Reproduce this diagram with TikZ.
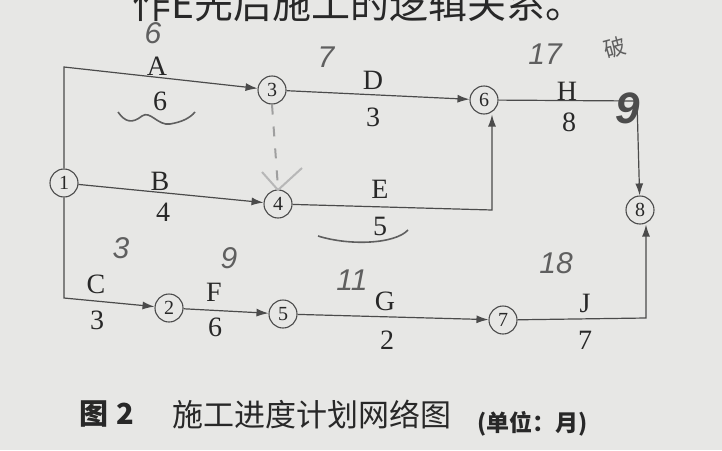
\documentclass[tikz,border=0pt]{standalone}
\usepackage{fontspec}
\setmainfont{Liberation Serif}
\newfontfamily\cjk{Noto Sans CJK SC}
\newfontfamily\hand{Liberation Sans}
\usetikzlibrary{arrows.meta,decorations.pathmorphing}
\definecolor{paper}{RGB}{231,231,229}
\definecolor{ink}{RGB}{40,40,40}
\definecolor{lineink}{RGB}{75,75,75}
\definecolor{pencil}{RGB}{95,95,95}
\tikzset{
  ev/.style={circle,draw=lineink,line width=1.1pt,minimum size=28pt,inner sep=0pt,font=\fontsize{20}{20}\selectfont,text=ink},
  act/.style={draw=lineink,line width=1.2pt},
  arr/.style={act,-{Latex[length=12pt,width=8pt]}},
  lbl/.style={text=ink,font=\fontsize{28}{28}\selectfont,inner sep=0pt},
  hw/.style={text=pencil,font=\hand\itshape\fontsize{30}{30}\selectfont,inner sep=0pt},
}
\begin{document}
\begin{tikzpicture}[x=1pt,y=-1pt]
\fill[paper] (0,0) rectangle (722,450);
\useasboundingbox (0,0) rectangle (722,450);
% top cut text
\node[anchor=base west,inner sep=0pt,text=ink,font=\cjk\fontsize{39}{39}\selectfont] (top) at (132,18) {作E先后施工的逻辑关系。};
% events
\node[ev] (n1) at (64,183) {1};
\node[ev] (n3) at (272,90) {3};
\node[ev] (n4) at (278,204) {4};
\node[ev] (n6) at (484,100) {6};
\node[ev] (n8) at (640,210) {8};
\node[ev] (n2) at (169,308) {2};
\node[ev] (n5) at (283,314) {5};
\node[ev] (n7) at (503,320) {7};
\coordinate (ca) at (64,67);
\coordinate (cc) at (64,298);
\coordinate (ce) at (492,210);
\coordinate (ch) at (637,101);
\coordinate (cj) at (646,318);
% activities
\draw[arr] (n1.north) -- (ca) -- (n3);
\draw[arr] (n1) -- (n4);
\draw[arr] (n1.south) -- (cc) -- (n2);
\draw[arr] (n3) -- (n6);
\draw[arr] (n4) -- (ce) -- (n6.south -| ce);
\draw[arr] (n6) -- (ch) -- (n8);
\draw[arr] (n2) -- (n5);
\draw[arr] (n5) -- (n7);
\draw[arr] (n7) -- (cj) -- (n8.south -| cj);
% labels
\node[lbl] (la) at (157,66) {A};  \node[lbl] (da) at (160,101) {6};
\node[lbl] (lb) at (160,181) {B};  \node[lbl] (db) at (163,212) {4};
\node[lbl] (lc) at (96,284) {C};   \node[lbl] (dc) at (97,320) {3};
\node[lbl] (ld) at (373,80) {D};   \node[lbl] (dd) at (373,117) {3};
\node[lbl] (le) at (380,189) {E};  \node[lbl] (de) at (380,226) {5};
\node[lbl] (lf) at (214,292) {F};  \node[lbl] (df) at (215,327) {6};
\node[lbl] (lg) at (385,301) {G};  \node[lbl] (dg) at (387,340) {2};
\node[lbl] (lh) at (567,91) {H};   \node[lbl] (dh) at (569,122) {8};
\node[lbl] (lj) at (585,303) {J};  \node[lbl] (dj) at (585,340) {7};
% caption
\node[anchor=base west,inner sep=0pt,text=ink,font=\cjk\bfseries\fontsize{29}{29}\selectfont] (cap1) at (79,424) {图\hspace{8pt}2};
\node[anchor=base west,inner sep=0pt,text=ink,font=\cjk\fontsize{31}{31}\selectfont] (cap2) at (172,426) {施工进度计划网络图};
\node[anchor=base west,inner sep=0pt,text=ink,font=\cjk\bfseries\fontsize{23}{23}\selectfont] (cap3) at (477,431) {(单位：月)};
% handwriting
\node[hw] (h6) at (153,33) {6};
\node[hw] (h7) at (326,57) {7};
\node[hw] (h17) at (545,54) {17};
\node[hw,font=\cjk\fontsize{22}{22}\selectfont,rotate=15] (hp) at (615,48) {破};
\node[hw,font=\hand\bfseries\itshape\fontsize{44}{44}\selectfont,text=pencil!80!black] (h9a) at (628,108) {9};
\node[hw] (h3) at (121,248) {3};
\node[hw] (h9b) at (229,258) {9};
\node[hw] (h11) at (352,280) {11};
\node[hw] (h18) at (556,263) {18};
\draw[pencil,line width=1.6pt] (118,112) .. controls (125,122) and (132,124) .. (142,116) .. controls (150,110) and (158,126) .. (170,124) .. controls (182,122) and (190,118) .. (195,112);
\draw[pencil,line width=1.6pt] (318,236) .. controls (350,246) and (395,244) .. (408,230);
\draw[pencil!60,line width=2pt,dash pattern=on 10pt off 12pt] (n3.south) -- (278,188);
\draw[pencil!45,line width=2pt] (262,172) -- (278,190) -- (302,168);
\end{tikzpicture}
\end{document}
